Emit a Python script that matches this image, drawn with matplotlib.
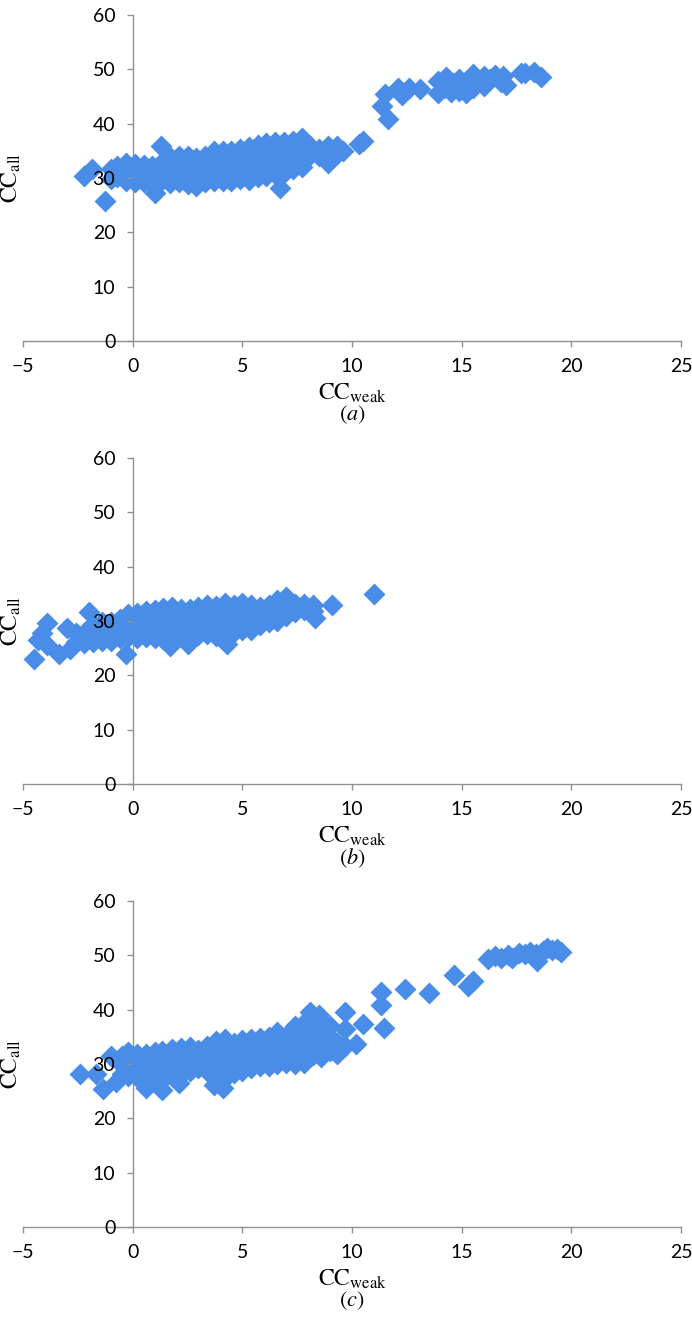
import matplotlib
matplotlib.use('Agg')
from matplotlib import pyplot as plt

plt.rcParams['font.family'] = ['Lato', 'DejaVu Sans']
plt.rcParams['mathtext.fontset'] = 'stix'

# ---- panel (a): x position of each column of points and the CC_all values in it
a_col_x = [-2.2, -1.85, -1.25, -1.0, -0.7, -0.3, 0.1, 0.5, 0.9, 1.0, 1.3, 1.7, 2.1, 2.5,
           2.9, 3.3, 3.7, 4.1, 4.5, 4.9, 5.3, 5.7, 6.1, 6.5, 6.7, 6.9, 7.3, 7.7, 8.1,
           8.5, 8.9, 9.3, 9.6, 10.3, 10.5,
           11.35, 11.5, 11.65, 12.1, 12.3, 12.6, 13.1, 13.9, 14.2, 14.3, 14.5, 14.6,
           14.9, 15.2, 15.5, 15.8, 16.0, 16.3, 16.5, 16.8, 16.9, 17.0, 17.7, 17.9,
           18.3, 18.6]
a_col_y = [[30.3], [31.6], [25.7], [29.8, 31.6], [30.2, 32.3], [29.4, 31.2, 32.8],
           [29.2, 31.0, 32.6], [29.3, 31.3, 32.4], [28.9, 30.6, 32.2], [27.3],
           [29.4, 31.2, 32.8, 35.8], [29.1, 31.0, 32.6, 33.8], [29.2, 31.2, 33.0, 34.0],
           [28.9, 30.8, 32.5, 34.0], [28.6, 30.6, 32.4, 33.6], [29.3, 31.2, 32.9, 34.0],
           [29.5, 31.5, 33.3, 35.0], [29.4, 31.6, 33.4, 35.0], [29.4, 31.4, 33.2, 34.9],
           [29.8, 31.8, 33.6, 35.4], [29.6, 31.9, 33.8, 35.7], [30.2, 32.4, 34.2, 36.1],
           [30.4, 32.4, 34.3, 36.4], [30.8, 32.8, 34.6, 36.7], [28.1],
           [31.0, 33.0, 34.8, 36.6], [31.6, 33.2, 35.0, 36.9], [32.0, 33.6, 35.4, 37.3],
           [34.2, 35.8], [34.0, 35.4], [32.8, 35.8], [34.4, 35.9], [35.0], [36.3], [36.8],
           [43.3], [45.5], [40.8], [46.5], [45.3], [46.6], [46.4], [47.8, 45.6], [46.6],
           [48.6], [45.8], [47.5], [48.2, 46.0], [45.6, 47.4], [49.2, 46.6], [47.8],
           [48.8, 47.0], [48.2], [49.0], [47.6], [48.8], [47.2], [49.3], [49.4],
           [49.6], [48.5]]

# ---- panel (b)
b_col_x = [-4.5, -4.3, -4.15, -3.9, -3.35, -3.0, -2.85, -2.6, -2.2, -2.0, -1.8, -1.4,
           -1.0, -0.6, -0.3, -0.2, 0.2, 0.6, 1.0, 1.4, 1.7, 1.8, 2.2, 2.5, 2.6, 3.0, 3.4,
           3.8, 4.2, 4.3, 4.6, 5.0, 5.4, 5.8, 6.2, 6.6, 7.0, 7.4, 7.8, 8.2, 8.3, 9.1,
           11.0]
b_col_y = [[23.0], [26.5], [27.7], [29.6, 25.6], [24.0], [28.7], [24.8], [26.2, 27.8],
           [26.0, 27.8], [31.7], [26.2, 27.8, 29.4], [26.4, 28.2, 29.8],
           [26.4, 28.3, 29.9], [26.8, 28.6, 30.3], [24.0], [27.0, 28.8, 30.6, 31.3],
           [26.8, 28.7, 30.5, 31.5], [27.1, 28.9, 30.7, 31.8], [26.9, 29.0, 30.8, 32.0],
           [26.6, 28.5, 30.4, 32.4], [25.4], [27.0, 28.8, 30.6, 32.6],
           [27.3, 29.1, 30.9, 32.2], [25.8], [27.2, 29.0, 30.8, 32.2],
           [27.5, 29.3, 31.1, 32.6], [27.6, 29.4, 31.2, 32.9], [27.2, 29.2, 31.0, 32.8],
           [27.3, 29.3, 31.3, 33.4], [25.8], [27.9, 29.7, 31.5, 33.0],
           [28.4, 30.2, 32.0, 33.4], [28.4, 30.4, 32.0, 33.0], [29.3, 31.0, 32.6],
           [29.8, 31.5, 33.0], [30.0, 31.8, 33.8], [31.0, 32.6, 34.4], [31.6, 33.2],
           [32.0, 33.2], [31.8, 33.0], [30.6], [32.9], [34.9]]

# ---- panel (c)
c_col_x = [-2.4, -1.65, -1.35, -1.0, -0.75, -0.5, -0.2, 0.2, 0.6, 1.0, 1.35, 1.8, 2.1,
           2.2, 2.6, 3.0, 3.4, 3.7, 3.8, 4.1, 4.2, 4.6, 5.0, 5.4, 5.8, 6.2, 6.6, 7.0,
           7.4, 7.8, 8.1, 8.2, 8.5, 8.6, 9.0, 9.3, 9.7, 10.2, 10.5, 11.3, 11.45, 12.4,
           13.5, 14.65, 15.3, 15.5,
           16.2, 16.5, 16.8, 17.1, 17.3, 17.6, 17.9, 18.1, 18.4, 18.45, 18.7, 18.9,
           19.1, 19.35, 19.55]
c_col_y = [[28.2], [28.1], [25.4], [31.4], [26.7], [28.2, 29.8, 31.4],
           [27.8, 29.4, 31.2, 32.2], [27.6, 29.4, 31.0, 31.8],
           [25.6, 27.4, 29.0, 30.6, 31.8], [27.4, 29.2, 31.0, 32.2],
           [25.2, 27.0, 28.8, 30.6, 32.4], [27.8, 29.6, 31.4, 32.8], [26.5],
           [28.2, 30.0, 31.8, 33.0], [28.8, 30.6, 32.4, 33.2], [29.2, 30.8, 32.6],
           [28.8, 30.4, 32.2, 33.4], [26.1], [27.8, 29.4, 31.2, 33.0, 34.2], [25.6],
           [27.4, 29.0, 30.8, 32.6, 34.6], [28.4, 30.2, 32.0, 33.8],
           [28.8, 30.6, 32.4, 34.4], [29.2, 31.0, 32.8, 34.6], [29.6, 31.4, 33.2, 34.8],
           [29.6, 31.6, 33.4, 35.0], [30.0, 31.8, 33.6, 35.8], [30.2, 32.0, 33.8, 35.2],
           [30.0, 31.8, 33.6, 35.0, 37.0], [30.2, 32.4, 34.2, 36.0, 37.6], [39.6],
           [31.6, 33.4, 35.2, 37.8], [39.0], [31.2, 33.0, 34.6, 37.6], [32.4, 35.0, 37.0],
           [31.8, 33.8], [33.4, 36.4, 39.6], [33.7], [37.4], [43.2, 40.9], [36.7],
           [43.8], [43.0], [46.3], [44.4], [45.3],
           [49.4], [49.9], [49.6], [50.0], [49.5], [50.5], [50.2], [50.6], [50.3],
           [48.9], [50.8], [51.3], [50.9], [51.1], [50.6]]

panel_names = ['a', 'b', 'c']
panel_tops = [15, 458, 901]  # pixel row of y=60 for each panel

marker_color = '#4a8de8'
axis_color = '#8c9292'
W, H = 692, 1322


def unpack(col_x, col_y):
    xs, ys = [], []
    for x, col in zip(col_x, col_y):
        for y in col:
            xs.append(x)
            ys.append(y)
    return xs, ys


fig = plt.figure(figsize=(W / 100, H / 100), dpi=100)
data = [(a_col_x, a_col_y), (b_col_x, b_col_y), (c_col_x, c_col_y)]

for (col_x, col_y), name, top in zip(data, panel_names, panel_tops):
    height = 326
    ax = fig.add_axes([23 / W, 1 - (top + height) / H, 658 / W, height / H])
    xs, ys = unpack(col_x, col_y)
    ax.scatter(xs, ys, marker='D', s=125, color=marker_color, linewidths=0, zorder=1)

    ax.set_xlim(-5, 25)
    ax.set_ylim(0, 60)
    ax.set_xticks(range(-5, 26, 5))
    ax.set_yticks(range(0, 61, 10))

    ax.spines['top'].set_visible(False)
    ax.spines['right'].set_visible(False)
    ax.spines['left'].set_position(('data', 0))
    for side in ['left', 'bottom']:
        ax.spines[side].set_color(axis_color)
        ax.spines[side].set_linewidth(1.0)
        ax.spines[side].set_zorder(0.5)

    ax.tick_params(axis='both', direction='out', length=4.5, width=1.0,
                   color=axis_color, labelsize=14, labelcolor='black')
    ax.tick_params(axis='y', pad=8)
    ax.tick_params(axis='x', pad=8)
    # tick labels are printed over the points in the original
    ax.xaxis.set_zorder(3)
    ax.yaxis.set_zorder(3)

    ax.set_xlabel(r'$\mathrm{CC}_{\mathrm{weak}}$', fontsize=17, va='center')
    ax.xaxis.set_label_coords(0.5, -52 / height)
    ax.set_ylabel(r'$\mathrm{CC}_{\mathrm{all}}$', fontsize=17, va='center')
    ax.yaxis.set_label_coords(-12 / 658, 0.5)
    ax.text(0.5, -74 / height, r'$(\mathit{%s})$' % name, transform=ax.transAxes,
            ha='center', va='center', fontsize=16)

fig.savefig('out.png', dpi=100)
